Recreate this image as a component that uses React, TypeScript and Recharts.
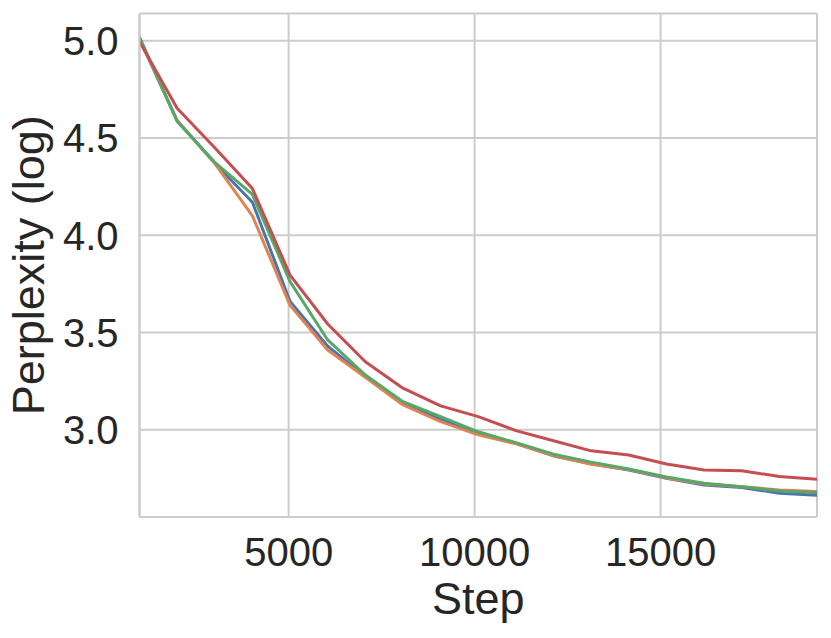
import React from 'react';
import { LineChart, Line, XAxis, YAxis, CartesianGrid } from 'recharts';

// Training step at each evaluation point
const steps = [990, 2002, 3014, 4026, 5038, 6050, 7062, 8074, 9086, 10098, 11110, 12122, 13134, 14146, 15158, 16170, 17182, 18194, 19206];

// Perplexity (log) per run
const blueRun = [5.01, 4.59, 4.37, 4.17, 3.66, 3.43, 3.273, 3.137, 3.054, 2.982, 2.931, 2.866, 2.825, 2.794, 2.751, 2.717, 2.704, 2.674, 2.664];
const orangeRun = [5.01, 4.59, 4.37, 4.10, 3.64, 3.41, 3.27, 3.128, 3.042, 2.974, 2.928, 2.868, 2.823, 2.796, 2.753, 2.722, 2.708, 2.691, 2.683];
const greenRun = [5.02, 4.585, 4.375, 4.21, 3.762, 3.462, 3.282, 3.145, 3.068, 2.99, 2.934, 2.875, 2.834, 2.799, 2.758, 2.725, 2.708, 2.686, 2.677];
const redRun = [4.995, 4.653, 4.45, 4.24, 3.795, 3.544, 3.35, 3.214, 3.123, 3.068, 2.996, 2.944, 2.892, 2.871, 2.824, 2.794, 2.79, 2.76, 2.746];

const xTicks = [5000, 10000, 15000];
const yTicks = [3.0, 3.5, 4.0, 4.5, 5.0];
const xDomain = [990, 19206];
const yDomain = [2.552, 5.14];

const data = steps.map((s, i) => ({
  step: s,
  blue: blueRun[i],
  orange: orangeRun[i],
  green: greenRun[i],
  red: redRun[i],
}));

const FONT = '"Liberation Sans", Arial, Helvetica, sans-serif';
const TEXT = '#262626';
const GRID = '#cccccc';

const XTick = (props: any) => {
  const { x, y, payload } = props;
  return (
    <text x={x} y={y + 49} textAnchor="middle" fill={TEXT} fontSize={40} fontFamily={FONT}>
      {payload.value}
    </text>
  );
};

const YTick = (props: any) => {
  const { x, y, payload } = props;
  return (
    <text x={x - 21} y={y + 14.3} textAnchor="end" fill={TEXT} fontSize={40} fontFamily={FONT}>
      {Number(payload.value).toFixed(1)}
    </text>
  );
};

const XLabel = (props: any) => {
  const vb = props.viewBox || {};
  return (
    <text x={vb.x + vb.width / 2} y={vb.y + 97} textAnchor="middle" fill={TEXT} fontSize={45} fontFamily={FONT}>
      Step
    </text>
  );
};

const YLabel = (props: any) => {
  const vb = props.viewBox || {};
  const cx = 44;
  const cy = vb.y + vb.height / 2;
  return (
    <text x={cx} y={cy} textAnchor="middle" fill={TEXT} fontSize={45} fontFamily={FONT} transform={`rotate(-90, ${cx}, ${cy})`}>
      Perplexity (log)
    </text>
  );
};

export default function App() {
  return (
    <div style={{ width: 823, height: 622, marginLeft: -8 }}>
      <LineChart width={823} height={622} data={data} margin={{ top: 5.5, right: 6, left: 0, bottom: 0 }}>
        <CartesianGrid stroke={GRID} strokeWidth={2} />
        <XAxis
          dataKey="step"
          type="number"
          domain={xDomain}
          ticks={xTicks}
          allowDataOverflow
          height={113}
          tickSize={0}
          tickMargin={0}
          tickLine={false}
          axisLine={{ stroke: GRID, strokeWidth: 2 }}
          tick={<XTick />}
          label={<XLabel />}
        />
        <XAxis
          xAxisId="top"
          orientation="top"
          dataKey="step"
          type="number"
          domain={xDomain}
          allowDataOverflow
          height={0}
          tick={false}
          tickLine={false}
          axisLine={{ stroke: GRID, strokeWidth: 2 }}
        />
        <YAxis
          type="number"
          domain={yDomain}
          ticks={yTicks}
          allowDataOverflow
          width={139.5}
          tickSize={0}
          tickMargin={0}
          tickLine={false}
          axisLine={{ stroke: GRID, strokeWidth: 2 }}
          tick={<YTick />}
          label={<YLabel />}
        />
        <YAxis
          yAxisId="right"
          orientation="right"
          type="number"
          domain={yDomain}
          allowDataOverflow
          width={0}
          tick={false}
          tickLine={false}
          axisLine={{ stroke: GRID, strokeWidth: 2 }}
        />
        <Line type="linear" dataKey="blue" stroke="#4C72B0" strokeWidth={3} dot={false} isAnimationActive={false} strokeLinejoin="round" />
        <Line type="linear" dataKey="orange" stroke="#DD8452" strokeWidth={3} dot={false} isAnimationActive={false} strokeLinejoin="round" />
        <Line type="linear" dataKey="green" stroke="#55A868" strokeWidth={3} dot={false} isAnimationActive={false} strokeLinejoin="round" />
        <Line type="linear" dataKey="red" stroke="#C44E52" strokeWidth={3} dot={false} isAnimationActive={false} strokeLinejoin="round" />
      </LineChart>
    </div>
  );
}
